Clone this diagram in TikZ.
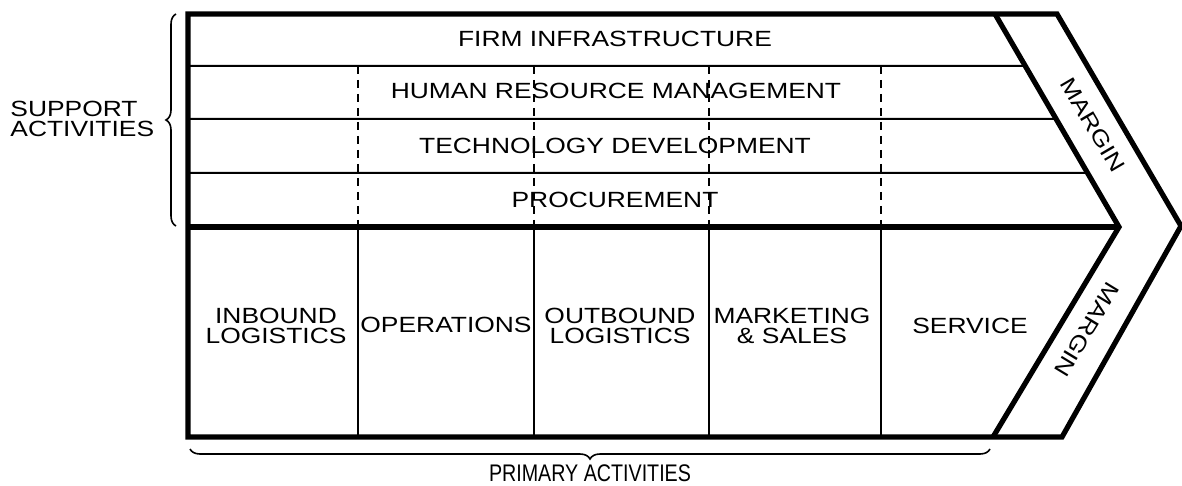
\documentclass[tikz,border=0pt]{standalone}
\usepackage{fontspec}
\setmainfont{Liberation Sans}[FakeStretch=1.2]
\newfontfamily\narrowsans{Liberation Sans}[FakeStretch=0.82]
\usetikzlibrary{calc, positioning, decorations.pathreplacing}
\tikzset{
    lbl/.style={font=\fontsize{11}{10}\selectfont, align=center, inner sep=0pt},
    heavyline/.style={line width=2.6pt, line join=miter},
    thinline/.style={line width=1pt},
    dashline/.style={line width=1pt, dash pattern=on 4pt off 3pt},
    bracebar/.style={line width=0.8pt, decorate, decoration={brace, amplitude=5pt}}
}

\begin{document}
\begin{tikzpicture}[x=0.5pt, y=-0.5pt]
    \useasboundingbox (0,0) rectangle (1182,486);
    % Outline of the chain (chevron)
    \coordinate (tl) at (188,14);
    \coordinate (bl) at (188,437);
    \coordinate (ml) at (188,227);
    \coordinate (ftop) at (995,14);
    \coordinate (mtop) at (1057,14);
    \coordinate (ftip) at (1119,227);
    \coordinate (mtip) at (1181,226);
    \coordinate (fbot) at (993,437);
    \coordinate (mbot) at (1062,437);
    \draw[heavyline] (mtop) -- (tl) -- (bl) -- (mbot) -- (mtip) -- cycle;
    \draw[heavyline] (ftop) -- (ftip) -- (fbot);
    \draw[heavyline] (ml) -- (ftip);

    % Support rows
    \foreach \y in {66,119,173} {
        \coordinate (rowend) at ($(ftop)!{(\y-14)/213}!(ftip)$);
        \draw[thinline] (188,\y) -- (rowend);
    }
    \foreach \x in {358,534,709,881} {
        \draw[dashline] (\x,66) -- (\x,227);
        \draw[thinline] (\x,227) -- (\x,437);
    }

    \node[lbl] (firm) at (615,39) {FIRM INFRASTRUCTURE};
    \node[lbl] (hrm) at (616,91) {HUMAN RESOURCE MANAGEMENT};
    \node[lbl] (tech) at (615,146) {TECHNOLOGY DEVELOPMENT};
    \node[lbl] (proc) at (615,200) {PROCUREMENT};

    % Primary activities
    \node[lbl] (inbound) at (276,326) {INBOUND\\LOGISTICS};
    \node[lbl] (ops) at (446,325) {OPERATIONS};
    \node[lbl] (outbound) at (620,326) {OUTBOUND\\LOGISTICS};
    \node[lbl] (marketing) at (792,326) {MARKETING\\\& SALES};
    \node[lbl] (service) at (970,326) {SERVICE};

    % Margin
    \node[lbl, rotate=-59.7] (margintop) at (1093,125) {MARGIN};
    \node[lbl, rotate=-121.3] (marginbot) at (1087,330) {MARGIN};

    % Braces
    \draw[bracebar] (176,226) -- (176,14);
    \node[lbl, anchor=west, align=left] (support) at (10,119) {SUPPORT\\ACTIVITIES};
    \draw[bracebar] (990,449) -- (190,449);
    \node[lbl, font=\narrowsans\fontsize{12}{12}\selectfont] (primary) at (590,473) {PRIMARY ACTIVITIES};
\end{tikzpicture}
\end{document}
